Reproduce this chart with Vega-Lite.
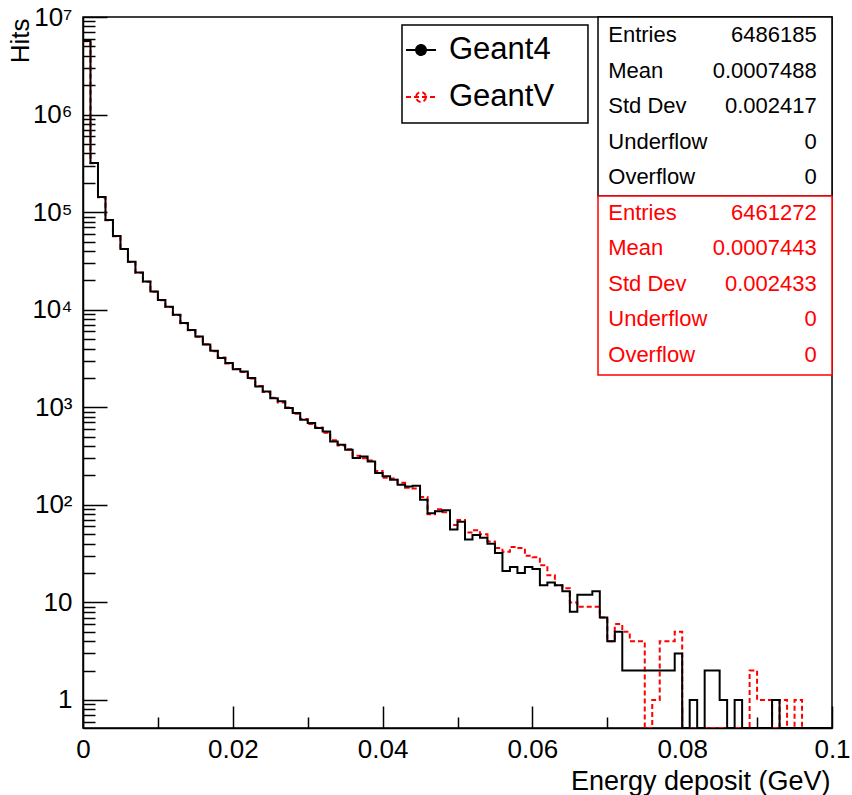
{
  "$schema": "https://vega.github.io/schema/vega-lite/v6.json",
  "width": 749,
  "height": 711,
  "autosize": {"type": "none"},
  "padding": {"left": 83, "top": 17, "right": 20, "bottom": 67},
  "background": "white",
  "config": {"font": "Liberation Sans", "view": {"stroke": "black", "strokeWidth": 1.5}},
  "datasets": {
    "hist": [
      {"e": 0.000, "Geant4": 5665000, "GeantV": 5640000},
      {"e": 0.001, "Geant4": 318000, "GeantV": 317000},
      {"e": 0.002, "Geant4": 143000, "GeantV": 142000},
      {"e": 0.003, "Geant4": 83000, "GeantV": 82500},
      {"e": 0.004, "Geant4": 57000, "GeantV": 56500},
      {"e": 0.005, "Geant4": 42000, "GeantV": 41800},
      {"e": 0.006, "Geant4": 31000, "GeantV": 30900},
      {"e": 0.007, "Geant4": 24000, "GeantV": 23900},
      {"e": 0.008, "Geant4": 19400, "GeantV": 19300},
      {"e": 0.009, "Geant4": 15400, "GeantV": 15300},
      {"e": 0.010, "Geant4": 12600, "GeantV": 12500},
      {"e": 0.011, "Geant4": 10700, "GeantV": 10650},
      {"e": 0.012, "Geant4": 8900, "GeantV": 8850},
      {"e": 0.013, "Geant4": 7300, "GeantV": 7280},
      {"e": 0.014, "Geant4": 6200, "GeantV": 6150},
      {"e": 0.015, "Geant4": 5300, "GeantV": 5270},
      {"e": 0.016, "Geant4": 4400, "GeantV": 4420},
      {"e": 0.017, "Geant4": 3800, "GeantV": 3760},
      {"e": 0.018, "Geant4": 3200, "GeantV": 3230},
      {"e": 0.019, "Geant4": 2850, "GeantV": 2810},
      {"e": 0.020, "Geant4": 2450, "GeantV": 2470},
      {"e": 0.021, "Geant4": 2330, "GeantV": 2300},
      {"e": 0.022, "Geant4": 1990, "GeantV": 1970},
      {"e": 0.023, "Geant4": 1630, "GeantV": 1650},
      {"e": 0.024, "Geant4": 1450, "GeantV": 1430},
      {"e": 0.025, "Geant4": 1240, "GeantV": 1250},
      {"e": 0.026, "Geant4": 1150, "GeantV": 1120},
      {"e": 0.027, "Geant4": 982, "GeantV": 995},
      {"e": 0.028, "Geant4": 872, "GeantV": 860},
      {"e": 0.029, "Geant4": 745, "GeantV": 760},
      {"e": 0.030, "Geant4": 688, "GeantV": 675},
      {"e": 0.031, "Geant4": 612, "GeantV": 620},
      {"e": 0.032, "Geant4": 565, "GeantV": 548},
      {"e": 0.033, "Geant4": 446, "GeantV": 458},
      {"e": 0.034, "Geant4": 413, "GeantV": 405},
      {"e": 0.035, "Geant4": 367, "GeantV": 372},
      {"e": 0.036, "Geant4": 302, "GeantV": 318},
      {"e": 0.037, "Geant4": 313, "GeantV": 300},
      {"e": 0.038, "Geant4": 278, "GeantV": 285},
      {"e": 0.039, "Geant4": 212, "GeantV": 222},
      {"e": 0.040, "Geant4": 196, "GeantV": 190},
      {"e": 0.041, "Geant4": 181, "GeantV": 186},
      {"e": 0.042, "Geant4": 161, "GeantV": 168},
      {"e": 0.043, "Geant4": 154, "GeantV": 150},
      {"e": 0.044, "Geant4": 157, "GeantV": 147},
      {"e": 0.045, "Geant4": 113, "GeantV": 120},
      {"e": 0.046, "Geant4": 82, "GeantV": 80},
      {"e": 0.047, "Geant4": 86, "GeantV": 90},
      {"e": 0.048, "Geant4": 88, "GeantV": 84},
      {"e": 0.049, "Geant4": 56, "GeantV": 62},
      {"e": 0.050, "Geant4": 67, "GeantV": 70},
      {"e": 0.051, "Geant4": 44, "GeantV": 52},
      {"e": 0.052, "Geant4": 49, "GeantV": 55},
      {"e": 0.053, "Geant4": 46, "GeantV": 50},
      {"e": 0.054, "Geant4": 40, "GeantV": 42},
      {"e": 0.055, "Geant4": 32, "GeantV": 36},
      {"e": 0.056, "Geant4": 21, "GeantV": 33},
      {"e": 0.057, "Geant4": 23, "GeantV": 37},
      {"e": 0.058, "Geant4": 20, "GeantV": 36},
      {"e": 0.059, "Geant4": 23, "GeantV": 30},
      {"e": 0.060, "Geant4": 22, "GeantV": 29},
      {"e": 0.061, "Geant4": 15, "GeantV": 24},
      {"e": 0.062, "Geant4": 16, "GeantV": 19},
      {"e": 0.063, "Geant4": 15, "GeantV": 15},
      {"e": 0.064, "Geant4": 13, "GeantV": 14},
      {"e": 0.065, "Geant4": 8, "GeantV": 10},
      {"e": 0.066, "Geant4": 12, "GeantV": 9},
      {"e": 0.067, "Geant4": 12, "GeantV": 9},
      {"e": 0.068, "Geant4": 13, "GeantV": 9},
      {"e": 0.069, "Geant4": 7, "GeantV": 7},
      {"e": 0.070, "Geant4": 4, "GeantV": 4},
      {"e": 0.071, "Geant4": 5, "GeantV": 6},
      {"e": 0.072, "Geant4": 2, "GeantV": 5},
      {"e": 0.073, "Geant4": 2, "GeantV": 4},
      {"e": 0.074, "Geant4": 2, "GeantV": 4},
      {"e": 0.075, "Geant4": 2, "GeantV": 0},
      {"e": 0.076, "Geant4": 2, "GeantV": 1},
      {"e": 0.077, "Geant4": 2, "GeantV": 4},
      {"e": 0.078, "Geant4": 2, "GeantV": 4},
      {"e": 0.079, "Geant4": 3, "GeantV": 5},
      {"e": 0.080, "Geant4": 0, "GeantV": 0},
      {"e": 0.081, "Geant4": 1, "GeantV": 0},
      {"e": 0.082, "Geant4": 0, "GeantV": 0},
      {"e": 0.083, "Geant4": 2, "GeantV": 0},
      {"e": 0.084, "Geant4": 2, "GeantV": 0},
      {"e": 0.085, "Geant4": 1, "GeantV": 0},
      {"e": 0.086, "Geant4": 0, "GeantV": 0},
      {"e": 0.087, "Geant4": 1, "GeantV": 0},
      {"e": 0.088, "Geant4": 0, "GeantV": 0},
      {"e": 0.089, "Geant4": 0, "GeantV": 2},
      {"e": 0.090, "Geant4": 0, "GeantV": 1},
      {"e": 0.091, "Geant4": 0, "GeantV": 1},
      {"e": 0.092, "Geant4": 1, "GeantV": 0},
      {"e": 0.093, "Geant4": 0, "GeantV": 1},
      {"e": 0.094, "Geant4": 0, "GeantV": 0},
      {"e": 0.095, "Geant4": 0, "GeantV": 1},
      {"e": 0.096, "Geant4": 0, "GeantV": 0},
      {"e": 0.097, "Geant4": 0, "GeantV": 0},
      {"e": 0.098, "Geant4": 0, "GeantV": 0},
      {"e": 0.099, "Geant4": 0, "GeantV": 0},
      {"e": 0.100, "Geant4": 0, "GeantV": 0}
    ],
    "stats": [
      {"sim": "Geant4", "i": 0, "k": "Entries", "v": "6486185"},
      {"sim": "Geant4", "i": 1, "k": "Mean", "v": "0.0007488"},
      {"sim": "Geant4", "i": 2, "k": "Std Dev", "v": "0.002417"},
      {"sim": "Geant4", "i": 3, "k": "Underflow", "v": "0"},
      {"sim": "Geant4", "i": 4, "k": "Overflow", "v": "0"},
      {"sim": "GeantV", "i": 5, "k": "Entries", "v": "6461272"},
      {"sim": "GeantV", "i": 6, "k": "Mean", "v": "0.0007443"},
      {"sim": "GeantV", "i": 7, "k": "Std Dev", "v": "0.002433"},
      {"sim": "GeantV", "i": 8, "k": "Underflow", "v": "0"},
      {"sim": "GeantV", "i": 9, "k": "Overflow", "v": "0"}
    ]
  },
  "resolve": {"scale": {"y": "independent"}},
  "layer": [
    {
      "data": {"name": "hist"},
      "transform": [{"fold": ["GeantV", "Geant4"], "as": ["sim", "hits"]}],
      "mark": {"type": "line", "interpolate": "step-after", "strokeWidth": 2, "invalid": null, "clip": true},
      "encoding": {
        "x": {
          "field": "e", "type": "quantitative",
          "scale": {"domain": [0, 0.1], "nice": false, "zero": false},
          "axis": {
            "values": [0, 0.005, 0.01, 0.015, 0.02, 0.025, 0.03, 0.035, 0.04, 0.045, 0.05, 0.055, 0.06, 0.065, 0.07, 0.075, 0.08, 0.085, 0.09, 0.095, 0.1],
            "labelExpr": "datum.value == 0 ? '0' : datum.value == 0.02 ? '0.02' : datum.value == 0.04 ? '0.04' : datum.value == 0.06 ? '0.06' : datum.value == 0.08 ? '0.08' : datum.value == 0.1 ? '0.1' : ''",
            "labelFontSize": 26, "labelColor": "black", "labelPadding": 8, "labelFlush": false, "labelOverlap": false,
            "tickSize": 0, "tickColor": "black", "tickWidth": 1.5,
            "domainColor": "black", "domainWidth": 1.5, "grid": false,
            "title": "Energy deposit (GeV)", "titleFontSize": 27, "titleFontWeight": "normal", "titleColor": "black",
            "titleX": 747, "titleY": 53, "titleAlign": "right", "titleBaseline": "middle",
            "encoding": {"ticks": {"y2": {"condition": {"test": "indexof([0,0.02,0.04,0.06,0.08,0.1], datum.value) >= 0", "value": -22}, "value": -11}}}
          }
        },
        "y": {
          "field": "hits", "type": "quantitative",
          "scale": {"type": "log", "domain": [0.516, 10000000], "clamp": true, "nice": false},
          "axis": {
            "values": [0.6, 0.7, 0.8, 0.9, 1, 2, 3, 4, 5, 6, 7, 8, 9, 10, 20, 30, 40, 50, 60, 70, 80, 90, 100, 200, 300, 400, 500, 600, 700, 800, 900, 1000, 2000, 3000, 4000, 5000, 6000, 7000, 8000, 9000, 10000, 20000, 30000, 40000, 50000, 60000, 70000, 80000, 90000, 100000, 200000, 300000, 400000, 500000, 600000, 700000, 800000, 900000, 1000000, 2000000, 3000000, 4000000, 5000000, 6000000, 7000000, 8000000, 9000000, 10000000],
            "labelExpr": "datum.value == 1 ? '1' : datum.value == 10 ? '10' : datum.value == 100 ? '10²' : datum.value == 1000 ? '10³' : datum.value == 10000 ? '10⁴' : datum.value == 100000 ? '10⁵' : datum.value == 1000000 ? '10⁶' : datum.value == 10000000 ? '10⁷' : ''",
            "labelFontSize": 26, "labelColor": "black", "labelPadding": 11, "labelFlush": false, "labelOverlap": false, "labelBaseline": "middle",
            "tickSize": 0, "tickColor": "black", "tickWidth": 1.5,
            "domainColor": "black", "domainWidth": 1.5, "grid": false,
            "title": "Hits", "titleFontSize": 26, "titleFontWeight": "normal", "titleColor": "black",
            "titleX": -63, "titleY": 1, "titleAngle": -90, "titleAlign": "right", "titleBaseline": "middle",
            "encoding": {"ticks": {"x2": {"condition": {"test": "indexof([1,10,100,1000,10000,100000,1000000,10000000], datum.value) >= 0", "value": 24}, "value": 12}}}
          }
        },
        "color": {
          "field": "sim", "type": "nominal",
          "scale": {"domain": ["Geant4", "GeantV"], "range": ["black", "red"]},
          "legend": {
            "orient": "none", "legendX": 322, "legendY": 17, "title": null, "padding": 0,
            "symbolType": "M-1,0L1,0M0.33,0A0.33,0.33,0,1,1,-0.33,0A0.33,0.33,0,1,1,0.33,0",
            "symbolSize": 900, "symbolStrokeWidth": 2,
            "labelFontSize": 31, "labelColor": "black", "labelOffset": 12, "rowPadding": 16,
            "encoding": {"symbols": {"fill": {"condition": {"test": "datum.value === 'Geant4'", "value": "black"}, "value": "white"}}}
          }
        },
        "strokeDash": {
          "field": "sim", "type": "nominal",
          "scale": {"domain": ["Geant4", "GeantV"], "range": [[1, 0], [5, 3]]},
          "legend": {
            "orient": "none", "legendX": 322, "legendY": 17, "title": null, "padding": 0,
            "symbolType": "M-1,0L1,0M0.33,0A0.33,0.33,0,1,1,-0.33,0A0.33,0.33,0,1,1,0.33,0",
            "symbolSize": 900, "symbolStrokeWidth": 2,
            "labelFontSize": 31, "labelColor": "black", "labelOffset": 12, "rowPadding": 16,
            "encoding": {"symbols": {"fill": {"condition": {"test": "datum.value === 'Geant4'", "value": "black"}, "value": "white"}}}
          }
        }
      }
    },
    {
      "layer": [
        {
          "data": {"values": [{"box": "legend"}]},
          "mark": {"type": "rect", "fill": "white", "stroke": "black", "strokeWidth": 1.5},
          "encoding": {
            "x": {"datum": 0.04259, "type": "quantitative", "scale": {"domain": [0, 0.1], "nice": false, "zero": false}},
            "x2": {"datum": 0.06742},
            "y": {"datum": -0.281, "type": "quantitative", "scale": {"domain": [-0.506, 19.494], "reverse": true, "nice": false, "zero": false}, "axis": null},
            "y2": {"datum": 2.475}
          }
        },
        {
          "data": {"values": [{"box": "Geant4 statistics"}]},
          "mark": {"type": "rect", "fill": "white", "stroke": "black", "strokeWidth": 1.5},
          "encoding": {
            "x": {"datum": 0.06876, "type": "quantitative", "scale": {"domain": [0, 0.1], "nice": false, "zero": false}},
            "x2": {"datum": 0.1},
            "y": {"datum": -0.506, "type": "quantitative", "scale": {"domain": [-0.506, 19.494], "reverse": true, "nice": false, "zero": false}, "axis": null},
            "y2": {"datum": 4.529}
          }
        },
        {
          "data": {"values": [{"box": "GeantV statistics"}]},
          "mark": {"type": "rect", "fill": "white", "stroke": "red", "strokeWidth": 1.5},
          "encoding": {
            "x": {"datum": 0.06876, "type": "quantitative", "scale": {"domain": [0, 0.1], "nice": false, "zero": false}},
            "x2": {"datum": 0.1},
            "y": {"datum": 4.529, "type": "quantitative", "scale": {"domain": [-0.506, 19.494], "reverse": true, "nice": false, "zero": false}, "axis": null},
            "y2": {"datum": 9.564}
          }
        },
        {
          "data": {"name": "stats"},
          "mark": {"type": "text", "align": "left", "baseline": "middle", "fontSize": 22},
          "encoding": {
            "x": {"datum": 0.07013, "type": "quantitative", "scale": {"domain": [0, 0.1], "nice": false, "zero": false}},
            "y": {"field": "i", "type": "quantitative", "scale": {"domain": [-0.506, 19.494], "reverse": true, "nice": false, "zero": false}, "axis": null},
            "text": {"field": "k"},
            "color": {"condition": {"test": "datum.sim === 'GeantV'", "value": "red"}, "value": "black"}
          }
        },
        {
          "data": {"name": "stats"},
          "mark": {"type": "text", "align": "right", "baseline": "middle", "fontSize": 22},
          "encoding": {
            "x": {"datum": 0.09796, "type": "quantitative", "scale": {"domain": [0, 0.1], "nice": false, "zero": false}},
            "y": {"field": "i", "type": "quantitative", "scale": {"domain": [-0.506, 19.494], "reverse": true, "nice": false, "zero": false}, "axis": null},
            "text": {"field": "v"},
            "color": {"condition": {"test": "datum.sim === 'GeantV'", "value": "red"}, "value": "black"}
          }
        }
      ]
    }
  ]
}
